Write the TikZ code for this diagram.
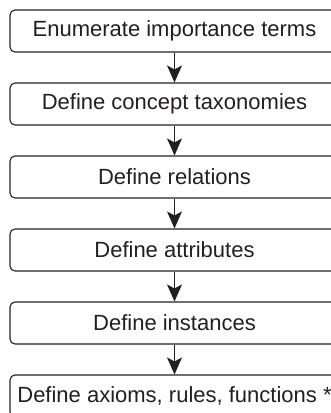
\documentclass[tikz,border=0pt]{standalone}
\usepackage{fontspec}
\setmainfont{Liberation Sans}
\usetikzlibrary{arrows.meta}
\definecolor{ink}{HTML}{231F20}
\begin{document}
\begin{tikzpicture}[x=1pt,y=-1pt,
  stepbox/.style={draw=ink, line width=1.1pt, rounded corners=5pt, fill=white,
    minimum width=329pt, minimum height=42pt, inner sep=0pt,
    text=ink, font=\fontsize{22pt}{24pt}\selectfont},
  flow/.style={draw=ink, line width=1.3pt,
    -{Stealth[length=17pt, width=15pt, inset=4pt]}}]
  \useasboundingbox (0,0) rectangle (331,413);
  \clip (0,0) rectangle (331,413);
  \node[stepbox] (s1) at (174.5,31)  {Enumerate importance terms};
  \node[stepbox] (s2) at (174.5,104) {Define concept taxonomies};
  \node[stepbox] (s3) at (174.5,177) {Define relations};
  \node[stepbox] (s4) at (174.5,250) {Define attributes};
  \node[stepbox] (s5) at (174.5,323) {Define instances};
  \node[stepbox] (s6) at (174.5,396) {Define axioms, rules, functions *};
  \foreach \a/\b in {s1/s2,s2/s3,s3/s4,s4/s5,s5/s6}
    \draw[flow] (\a.south) -- (\b.north);
\end{tikzpicture}
\end{document}
